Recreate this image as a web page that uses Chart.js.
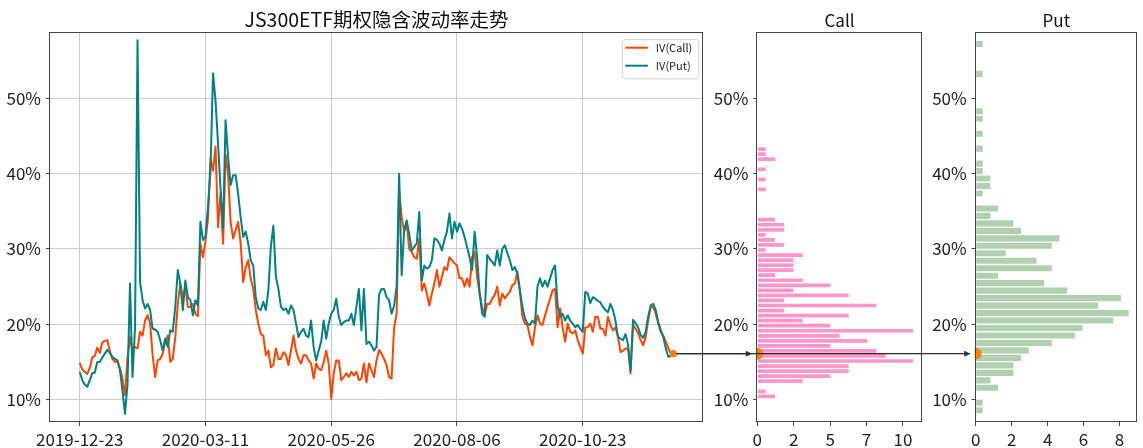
<!DOCTYPE html>
<html>
<head>
<meta charset="utf-8">
<script src="https://cdn.jsdelivr.net/npm/chart.js@4.4.1/dist/chart.umd.min.js"></script>
<style>
  html, body { margin: 0; padding: 0; background: #fff; }
  #wrap { position: relative; width: 1143px; height: 448px; overflow: hidden; }
  #wrap canvas { position: absolute; left: 0; top: 0; width: 1143px; height: 448px; }
</style>
</head>
<body>
<div id="wrap">
  <canvas id="putHist" width="1143" height="448"></canvas>
  <canvas id="callHist" width="1143" height="448"></canvas>
  <canvas id="ivMain" width="1143" height="448"></canvas>
</div>
<script>
// Daily implied volatility (%) of the JS300ETF options, one value per trading day
const ivCall = [
  14.9, 14.0, 13.7, 13.4, 14.2, 15.6, 15.8, 16.9, 16.2, 17.6,
  17.8, 17.9, 16.4, 15.4, 15.0, 15.1, 14.2, 12.8, 10.6, 15.5,
  18.3, 16.5, 17.0, 16.8, 19.0, 18.5, 20.5, 21.2, 20.1, 15.9,
  13.0, 15.2, 15.4, 16.1, 17.7, 18.5, 15.0, 15.4, 18.3, 22.7,
  25.4, 23.6, 25.0, 22.3, 22.3, 22.7, 21.4, 21.1, 30.7, 28.9,
  31.0, 34.0, 42.0, 40.4, 43.6, 32.9, 37.4, 30.7, 42.5, 40.0,
  33.6, 31.4, 32.5, 33.6, 30.7, 25.6, 27.6, 28.5, 26.1, 24.7,
  21.9, 20.1, 18.7, 18.5, 15.9, 16.5, 14.3, 14.6, 16.8, 15.4,
  15.4, 16.3, 15.9, 14.6, 16.5, 18.5, 16.5, 15.4, 14.8, 15.9,
  15.9, 15.2, 14.8, 12.8, 14.8, 14.1, 13.9, 15.0, 16.5, 14.8,
  10.1, 13.5, 15.2, 15.2, 12.6, 13.0, 13.5, 13.0, 13.7, 13.2,
  13.7, 12.6, 12.8, 14.8, 12.3, 14.8, 13.9, 13.0, 15.2, 16.6,
  16.1, 15.4, 14.6, 13.0, 12.8, 19.6, 21.4, 37.8, 34.2, 32.3,
  33.4, 30.0, 29.6, 28.9, 28.7, 31.4, 24.5, 25.4, 24.1, 22.5,
  24.1, 25.4, 27.2, 25.0, 26.3, 27.6, 27.2, 28.9, 28.5, 28.1,
  27.8, 26.1, 26.1, 25.0, 26.1, 25.0, 28.9, 29.6, 26.3, 24.1,
  22.3, 21.2, 22.7, 22.7, 23.4, 23.9, 25.0, 22.5, 24.1, 23.4,
  23.9, 24.3, 25.2, 25.4, 27.0, 24.5, 21.0, 20.1, 19.9, 18.3,
  17.2, 19.6, 21.2, 20.1, 19.9, 21.2, 22.3, 23.4, 24.5, 24.7,
  19.6, 22.1, 19.6, 17.7, 20.1, 19.0, 18.8, 19.2, 17.9, 17.0,
  16.1, 19.6, 19.6, 20.1, 19.0, 21.0, 21.0, 19.4, 19.4, 18.5,
  21.0, 19.9, 19.2, 19.6, 18.3, 16.3, 16.5, 16.8, 16.8, 13.5,
  19.9, 19.4, 18.8, 17.9, 17.2, 18.3, 20.5, 22.3, 22.3, 21.4,
  20.1, 19.0, 18.5, 17.7, 16.8, 16.1
];
const ivPut = [
  13.7, 12.6, 12.0, 11.7, 12.6, 13.5, 13.6, 15.0, 15.0, 15.6,
  16.1, 16.6, 16.2, 15.7, 15.4, 15.2, 13.9, 11.2, 8.1, 12.0,
  25.4, 13.0, 19.5, 57.7, 25.6, 23.2, 22.1, 22.7, 21.9, 19.4,
  19.3, 19.0, 17.9, 16.5, 18.1, 17.0, 19.2, 19.0, 22.3, 27.2,
  25.4, 21.9, 25.8, 23.6, 23.2, 21.2, 23.2, 22.5, 33.6, 31.2,
  31.6, 35.6, 40.4, 53.3, 49.7, 44.0, 38.0, 32.7, 47.1, 42.2,
  38.5, 39.8, 39.8, 37.3, 34.2, 31.6, 32.3, 30.7, 28.5, 27.8,
  23.6, 22.1, 21.9, 23.0, 21.9, 24.5, 30.3, 33.1, 26.3, 24.7,
  22.3, 21.9, 22.1, 21.4, 22.5, 21.9, 20.1, 18.3, 19.0, 19.4,
  18.5, 18.3, 20.5, 17.0, 15.2, 16.5, 17.7, 20.5, 18.1, 20.1,
  21.4, 21.9, 23.4, 21.0, 19.9, 20.3, 20.5, 20.5, 21.4, 19.9,
  22.3, 24.7, 19.2, 24.7, 17.4, 17.7, 17.2, 16.5, 17.0, 23.9,
  24.7, 24.7, 23.6, 23.2, 21.4, 22.5, 25.0, 40.0, 26.5, 32.5,
  33.8, 32.0, 29.8, 30.3, 30.7, 34.9, 25.8, 27.8, 27.4, 27.6,
  28.5, 31.4, 31.2, 30.7, 29.8, 31.2, 32.3, 34.7, 31.4, 33.6,
  32.3, 33.4, 32.7, 31.6, 30.3, 28.9, 27.2, 32.3, 28.9, 24.1,
  21.4, 21.0, 29.2, 28.7, 28.3, 27.8, 29.8, 27.8, 30.0, 30.5,
  29.5, 28.5, 27.2, 27.6, 26.7, 24.5, 22.3, 20.8, 20.1, 19.9,
  20.5, 20.1, 25.0, 26.1, 25.0, 25.8, 25.0, 26.1, 27.2, 27.8,
  22.5, 21.0, 21.4, 20.5, 21.2, 20.5, 20.1, 19.6, 19.9, 19.4,
  19.0, 24.3, 24.1, 22.8, 23.6, 23.4, 23.1, 22.9, 22.3, 21.9,
  21.6, 22.7, 21.9, 20.5, 18.3, 18.1, 17.9, 18.7, 17.3, 13.9,
  20.6, 20.1, 19.6, 18.6, 18.2, 19.0, 21.0, 22.5, 22.7, 21.9,
  20.3, 19.2, 18.3, 16.8, 15.7, 15.8
];

// Trading-day positions of the date ticks and their labels
const tickDays = [0, 50, 100, 150, 200];
const tickDates = ['2019-12-23', '2020-03-11', '2020-05-26', '2020-08-06', '2020-10-23'];

// Volatility axis ticks (%)
const ivTicks = [10, 20, 30, 40, 50];

// Histogram counts per bin, 50 bins from the lowest to the highest IV
const callCounts = [
  2, 1, 0, 5, 8, 10, 10, 17, 14, 13,
  8, 12, 9, 17, 8, 5, 10, 3, 13, 3,
  10, 4, 8, 5, 2, 4, 4, 4, 5, 1,
  3, 2, 1, 3, 3, 2, 0, 0, 0, 0,
  0, 1, 0, 1, 0, 1, 0, 2, 1, 1
];
const putCounts = [
  1, 1, 0, 3, 2, 5, 5, 6, 7, 10,
  13, 14, 18, 20, 16, 19, 12, 9, 3, 10,
  8, 4, 10, 11, 6, 5, 2, 3, 0, 1,
  2, 2, 1, 1, 0, 1, 0, 1, 0, 1,
  1, 0, 0, 0, 0, 1, 0, 0, 0, 1
];

// Density axis ticks of the two histograms
const callDensityTicks = [0, 2.5, 5, 7.5, 10];
const putDensityTicks = [0, 2, 4, 6, 8];

const FONT = '"Noto Sans CJK SC", "Noto Sans", sans-serif';
Chart.defaults.font.family = FONT;
Chart.defaults.color = '#222';

const N = ivCall.length;
const lastIV = ivCall[N - 1];
const IV_MIN = 7.03, IV_MAX = 58.67;
const TICK_FONT = { size: 17 };
const DOT = '#ff7f0e';

// Axes box around the plotting area
const framePlugin = {
  id: 'frame',
  afterDatasetsDraw(chart) {
    const a = chart.chartArea, ctx = chart.ctx;
    const l = Math.round(a.left) - 0.5, t = Math.round(a.top) - 0.5;
    const r = Math.round(a.right) - 0.5, b = Math.round(a.bottom) - 0.5;
    ctx.save();
    ctx.strokeStyle = '#444';
    ctx.lineWidth = 1;
    ctx.strokeRect(l, t, r - l, b - t);
    ctx.restore();
  }
};

// Title centred over the plotting area
function titlePlugin(text, size) {
  return {
    id: 'panelTitle',
    afterDraw(chart) {
      const a = chart.chartArea, ctx = chart.ctx;
      ctx.save();
      ctx.font = size + 'px ' + FONT;
      ctx.fillStyle = '#111';
      ctx.textAlign = 'center';
      ctx.textBaseline = 'alphabetic';
      ctx.fillText(text, (a.left + a.right) / 2, a.top - 6.5);
      ctx.restore();
    }
  };
}

// Boxed legend in the upper right corner of the line chart
const legendPlugin = {
  id: 'boxLegend',
  afterDatasetsDraw(chart) {
    const a = chart.chartArea, ctx = chart.ctx;
    const items = chart.data.datasets.filter(d => d.showLegend);
    ctx.save();
    ctx.font = '11px ' + FONT;
    const tw = Math.max(...items.map(d => ctx.measureText(d.label).width));
    const padL = 3.5, lineLen = 22.5, gap = 8, padR = 6, rowH = 18, padT = 8.7;
    const w = padL + lineLen + gap + tw + padR;
    const h = padT * 2 + rowH * (items.length - 1) + 4;
    const x0 = a.right - 4.7 - w, y0 = a.top + 6;
    ctx.beginPath();
    ctx.roundRect(x0 + 0.5, y0 + 0.5, w, h, 3);
    ctx.fillStyle = 'rgba(255,255,255,0.8)';
    ctx.fill();
    ctx.strokeStyle = '#d4d4d4';
    ctx.lineWidth = 1;
    ctx.stroke();
    items.forEach((d, i) => {
      const y = y0 + padT + i * rowH;
      ctx.beginPath();
      ctx.moveTo(x0 + padL, y);
      ctx.lineTo(x0 + padL + lineLen, y);
      ctx.strokeStyle = d.borderColor;
      ctx.lineWidth = 2;
      ctx.stroke();
      ctx.fillStyle = '#222';
      ctx.textAlign = 'left';
      ctx.textBaseline = 'middle';
      ctx.fillText(d.label, x0 + padL + lineLen + gap, y + 0.5);
    });
    ctx.restore();
  }
};

function ivAxis(grid) {
  return {
    type: 'linear', min: IV_MIN, max: IV_MAX, offset: false,
    afterBuildTicks: s => { s.ticks = ivTicks.map(v => ({ value: v })); },
    afterFit: s => { s.width = 50; },
    ticks: { callback: v => v + '%', font: TICK_FONT, padding: 5, color: '#222' },
    grid: Object.assign({ offset: false }, grid),
    border: { display: false }
  };
}

function makeHist(canvasId, values, counts, color, densTicks, title, padL, padR) {
  const lo = Math.min(...values), hi = Math.max(...values);
  const w = (hi - lo) / counts.length;
  const bars = counts.map((c, i) => ({
    y: lo + (i + 0.5) * w,
    x: c > 0 ? c / (values.length * w / 100) : null
  }));
  const peak = Math.max(...bars.map(b => b.x || 0));
  return new Chart(document.getElementById(canvasId), {
    data: {
      datasets: [
        {
          type: 'bar', data: bars,
          backgroundColor: color,
          borderColor: 'rgba(255,255,255,0.7)', borderWidth: 1,
          barPercentage: 1, categoryPercentage: 1, order: 2
        },
        {
          type: 'scatter', data: [{ x: 0, y: lastIV }],
          pointRadius: 6, pointBackgroundColor: DOT, backgroundColor: DOT,
          borderWidth: 0, pointBorderWidth: 0,
          clip: { left: 1, top: 0, right: 0, bottom: 0 }, order: 1
        }
      ]
    },
    options: {
      indexAxis: 'y',
      responsive: false, animation: false, devicePixelRatio: 1,
      layout: { padding: { left: padL, right: padR, top: 33, bottom: 0 } },
      plugins: { legend: { display: false }, tooltip: { enabled: false } },
      scales: {
        x: {
          type: 'linear', min: 0, max: peak * 1.05, offset: false,
          afterBuildTicks: s => { s.ticks = densTicks.map(v => ({ value: v })); },
          afterFit: s => { s.height = 26; },
          ticks: { callback: v => String(Math.trunc(v)), font: TICK_FONT, padding: 3, color: '#222', maxRotation: 0 },
          grid: { drawOnChartArea: false, offset: false, tickColor: '#444', tickLength: 4 },
          border: { display: false }
        },
        y: ivAxis({ drawOnChartArea: false, tickColor: '#444', tickLength: 4 })
      }
    },
    plugins: [framePlugin, titlePlugin(title, 17)]
  });
}

const putChart = makeHist('putHist', ivPut, putCounts, 'rgba(143,188,143,0.7)', putDensityTicks, 'Put', 925.7, 4.7);
const callChart = makeHist('callHist', ivCall, callCounts, 'rgba(255,105,180,0.7)', callDensityTicks, 'Call', 707.3, 221.3);

// Arrows from the latest value to the matching level of each histogram
const arrowPlugin = {
  id: 'latestArrows',
  afterDraw(chart) {
    const ctx = chart.ctx;
    const x0 = chart.scales.x.getPixelForValue(N);
    const y0 = chart.scales.y.getPixelForValue(lastIV);
    ctx.save();
    [callChart, putChart].forEach(h => {
      const tx = h.scales.x.getPixelForValue(0) - 5;
      const ty = h.scales.y.getPixelForValue(lastIV);
      ctx.beginPath();
      ctx.moveTo(x0 + 3, y0);
      ctx.lineTo(tx - 5, ty);
      ctx.strokeStyle = '#2b2b2b';
      ctx.lineWidth = 1.3;
      ctx.stroke();
      ctx.beginPath();
      ctx.moveTo(tx, ty);
      ctx.lineTo(tx - 6.5, ty - 3);
      ctx.lineTo(tx - 6.5, ty + 3);
      ctx.closePath();
      ctx.fillStyle = '#2b3a4a';
      ctx.fill();
    });
    ctx.restore();
  }
};

const mainChart = new Chart(document.getElementById('ivMain'), {
  type: 'line',
  data: {
    datasets: [
      {
        label: 'IV(Call)', showLegend: true,
        data: ivCall.map((v, i) => ({ x: i, y: v })),
        borderColor: '#ff4500', borderWidth: 2, pointRadius: 0,
        borderJoinStyle: 'round', tension: 0, order: 2
      },
      {
        label: 'IV(Put)', showLegend: true,
        data: ivPut.map((v, i) => ({ x: i, y: v })),
        borderColor: '#008080', borderWidth: 2, pointRadius: 0,
        borderJoinStyle: 'round', tension: 0, order: 1
      },
      {
        type: 'scatter', label: 'latest',
        data: [{ x: N, y: lastIV }],
        pointRadius: 3.6, pointBackgroundColor: DOT, backgroundColor: DOT,
        pointBorderWidth: 0, borderWidth: 0, order: 0
      }
    ]
  },
  options: {
    responsive: false, animation: false, devicePixelRatio: 1,
    layout: { padding: { left: 0, right: 440, top: 33, bottom: 0 } },
    plugins: { legend: { display: false }, tooltip: { enabled: false } },
    scales: {
      x: {
        type: 'linear', min: -0.05 * N, max: 1.05 * N,
        afterBuildTicks: s => { s.ticks = tickDays.map(v => ({ value: v })); },
        afterFit: s => { s.height = 26; },
        ticks: {
          callback: (v, i) => tickDates[i],
          font: TICK_FONT, padding: 3, color: '#222', maxRotation: 0, autoSkip: false
        },
        grid: { color: '#cccccc', lineWidth: 1, tickColor: '#444', tickLength: 4 },
        border: { display: false }
      },
      y: ivAxis({ color: '#cccccc', lineWidth: 1, tickColor: '#444', tickLength: 4 })
    }
  },
  plugins: [framePlugin, legendPlugin, titlePlugin('JS300ETF期权隐含波动率走势', 19.5), arrowPlugin]
});
</script>
</body>
</html>
